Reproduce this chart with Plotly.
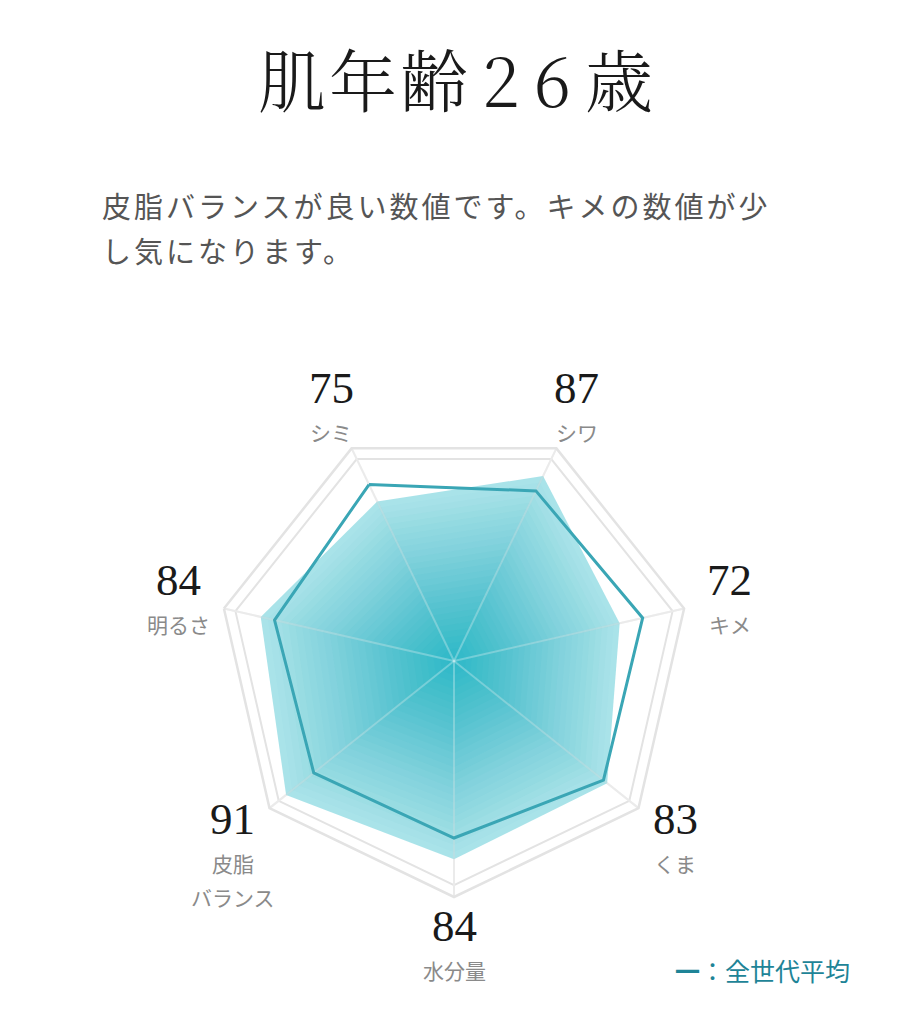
import math
import plotly.graph_objects as go

# ---------------- data ----------------
title_parts = ["肌年", "齢26", "歳"]          # 肌年齢26歳
comment_line1 = "皮脂バランスが良い数値です。キメの数値が少"
comment_line2 = "し気になります。"
categories = ["シミ", "シワ", "キメ", "くま", "水分量", "皮脂バランス", "明るさ"]
category_lines = [["シミ"], ["シワ"], ["キメ"], ["くま"], ["水分量"], ["皮脂", "バランス"], ["明るさ"]]
user_scores = [75, 87, 72, 83, 84, 91, 84]
average_scores = [83, 80, 82, 81, 75, 76, 78]
legend_text = "<b>一</b>：全世代平均"
r_max = 100

# ---------------- geometry / style ----------------
W, H = 910, 1024
CX, CY, R = 454, 661, 236          # polar centre / radius in page pixels
ROT = 90 + 180 / 7                  # angle of first category
TEAL = (41, 184, 200)
GRID = "#e3e3e3"
SERIF = "Noto Serif CJK JP, Liberation Serif, DejaVu Serif, serif"
SANS = "Noto Sans CJK JP, Noto Sans, sans-serif"


def px(x, y):
    return x / W, 1 - y / H


fig = go.Figure()

closed_theta = categories + [categories[0]]

# gradient fill of the user's scores (nested scaled copies of the same polygon)
N = 28
A_edge, A_center = 0.40, 0.96
prev = 0.0
for j in range(N):
    k = 1 - j / N
    A = A_edge + (A_center - A_edge) * (j / (N - 1)) ** 1.1
    b = A if j == 0 else 1 - (1 - A) / (1 - prev)
    prev = A
    rr = [v * k for v in user_scores]
    fig.add_trace(go.Scatterpolar(
        r=rr + [rr[0]], theta=closed_theta, mode="lines", fill="toself",
        fillcolor=f"rgba({TEAL[0]},{TEAL[1]},{TEAL[2]},{b:.4f})",
        line=dict(width=0, color="rgba(0,0,0,0)"), hoverinfo="skip", showlegend=False,
    ))

# light spokes drawn over the fill
for c in categories:
    fig.add_trace(go.Scatterpolar(
        r=[0, r_max], theta=[c, c], mode="lines",
        line=dict(color="rgba(255,255,255,0.30)", width=2),
        hoverinfo="skip", showlegend=False,
    ))

# average line
fig.add_trace(go.Scatterpolar(
    r=average_scores + [average_scores[0]], theta=closed_theta, mode="lines",
    line=dict(color="#3aa6b5", width=3), name="全世代平均", showlegend=False,
))

annotations = []
# title
tx, ty = px(455, 77)
title_html = (f'<span style="letter-spacing:3px">{title_parts[0]}</span>'
              f'<span style="letter-spacing:14px">{title_parts[1]}</span>{title_parts[2]}')
annotations.append(dict(text=title_html, x=tx, y=ty, xref="paper", yref="paper",
                        xanchor="center", yanchor="middle", showarrow=False,
                        font=dict(family=SERIF, size=68, color="#1a1a1a", weight=300)))
# comment
for i, line in enumerate([comment_line1, comment_line2]):
    x, y = px(100, 205 + 45 * i)
    annotations.append(dict(text=f'<span style="letter-spacing:3px">{line}</span>',
                            x=x, y=y, xref="paper", yref="paper",
                            xanchor="left", yanchor="middle", showarrow=False,
                            font=dict(family=SANS, size=29, color="#555555")))

# value labels around the chart
for i, (score, lines) in enumerate(zip(user_scores, category_lines)):
    th = math.radians(ROT - i * 360 / 7)
    bx = CX + 283 * math.cos(th)
    by = CY - 283 * math.sin(th)
    x, y = px(bx, by - 18)
    annotations.append(dict(text=str(score), x=x, y=y, xref="paper", yref="paper",
                            xanchor="center", yanchor="middle", showarrow=False,
                            font=dict(family="Liberation Serif, serif", size=45, color="#1a1a1a")))
    for j, ln in enumerate(lines):
        x, y = px(bx, by + 26 + 34 * j)
        annotations.append(dict(text=ln, x=x, y=y, xref="paper", yref="paper",
                                xanchor="center", yanchor="middle", showarrow=False,
                                font=dict(family=SANS, size=21, color="#8a8a8a")))

# legend
lx, ly = px(852, 970)
annotations.append(dict(text=legend_text, x=lx, y=ly, xref="paper", yref="paper",
                        xanchor="right", yanchor="middle", showarrow=False,
                        font=dict(family=SANS, size=25, color="#1e8497")))

fig.update_layout(
    width=W, height=H,
    margin=dict(l=0, r=0, t=0, b=0),
    paper_bgcolor="white",
    showlegend=False,
    annotations=annotations,
    polar=dict(
        domain=dict(x=[(CX - R) / W, (CX + R) / W], y=[(H - CY - R) / H, (H - CY + R) / H]),
        bgcolor="white",
        gridshape="linear",
        radialaxis=dict(range=[0, r_max], tickvals=[95], showticklabels=False, ticks="",
                        showline=False, gridcolor=GRID, gridwidth=2),
        angularaxis=dict(type="category", categoryarray=categories, rotation=ROT,
                         direction="clockwise", showticklabels=False, ticks="",
                         showline=True, linecolor=GRID, linewidth=2.5,
                         gridcolor=GRID, gridwidth=2),
    ),
)

fig.write_html("out.html", config={"displayModeBar": False},
               post_script="document.body.style.margin='0';")
